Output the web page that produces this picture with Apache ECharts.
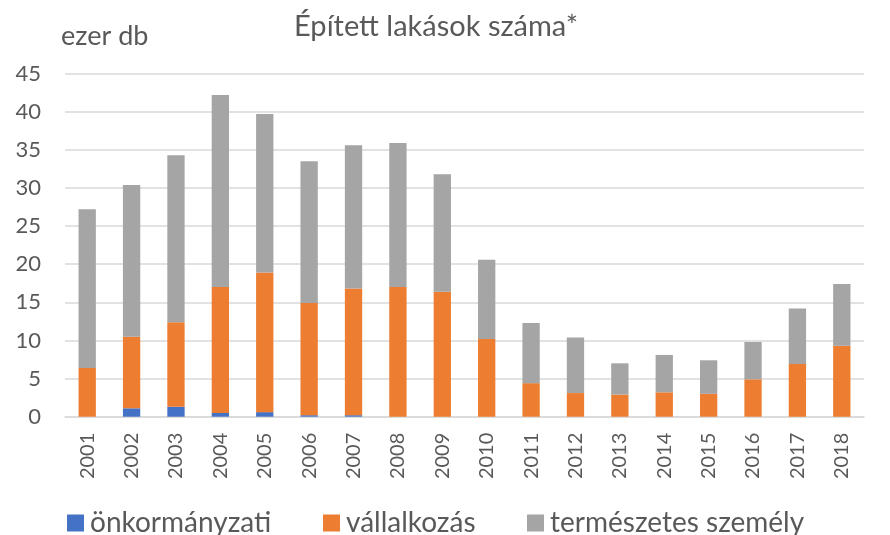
<!DOCTYPE html>
<html>
<head>
<meta charset="utf-8">
<script src="https://cdn.jsdelivr.net/npm/echarts@6/dist/echarts.min.js"></script>
<style>
  html, body { margin: 0; padding: 0; background: #fff; }
  #chart { width: 890px; height: 535px; }
</style>
</head>
<body>
<div id="chart"></div>
<script>
const years = ['2001', '2002', '2003', '2004', '2005', '2006', '2007', '2008', '2009',
  '2010', '2011', '2012', '2013', '2014', '2015', '2016', '2017', '2018'];
const onkormanyzati = [0, 1.1, 1.3, 0.5, 0.6, 0.2, 0.2, 0, 0, 0, 0, 0, 0, 0, 0, 0, 0, 0];
const vallalkozas = [6.4, 9.4, 11.1, 16.5, 18.3, 14.7, 16.6, 17.0, 16.4, 10.2, 4.4, 3.1, 2.9, 3.2, 3.0, 4.9, 6.9, 9.3];
const termeszetes = [20.8, 19.9, 21.9, 25.2, 20.8, 18.6, 18.8, 18.9, 15.4, 10.4, 7.9, 7.3, 4.1, 4.9, 4.4, 4.9, 7.3, 8.1];
const seriesNames = ['önkormányzati', 'vállalkozás', 'természetes személy'];

const font = 'Lato';
const textColor = '#595959';

const chart = echarts.init(document.getElementById('chart'));

function barSeries(name, data, color) {
  return {
    name: name,
    type: 'bar',
    stack: 'total',
    data: data,
    barWidth: '39%',
    itemStyle: { color: color },
    emphasis: { disabled: true }
  };
}

// one legend per item so each sits where the original puts it
function legendItem(name, left) {
  return {
    left: left,
    top: 504,
    itemWidth: 17,
    itemHeight: 17,
    itemGap: 0,
    icon: 'rect',
    textStyle: { fontFamily: font, fontSize: 28, color: textColor, padding: [0, 0, 0, 1] },
    data: [name]
  };
}

chart.setOption({
  animation: false,
  textStyle: { fontFamily: font, color: textColor },
  title: {
    text: 'Épített lakások száma*',
    left: 431,
    top: 7,
    textAlign: 'center',
    textStyle: { fontFamily: font, fontSize: 29, fontWeight: 'normal', color: textColor }
  },
  legend: [
    legendItem(seriesNames[0], 62),
    legendItem(seriesNames[1], 318),
    legendItem(seriesNames[2], 522)
  ],
  grid: {
    left: 65,
    right: 26,
    top: 73.6,
    bottom: 118.3,
    containLabel: false
  },
  xAxis: {
    type: 'category',
    data: years,
    axisLine: { show: true, lineStyle: { color: '#d9d9d9', width: 1.5 } },
    axisTick: { show: false },
    axisLabel: { rotate: 90, margin: 16, fontFamily: font, fontSize: 20, color: textColor }
  },
  yAxis: {
    type: 'value',
    name: 'ezer db',
    nameLocation: 'end',
    nameGap: 24,
    nameTextStyle: { fontFamily: font, fontSize: 27, color: textColor, align: 'left', padding: [0, 0, 0, -4] },
    min: 0,
    max: 45,
    interval: 5,
    axisLine: { show: false },
    axisTick: { show: false },
    axisLabel: { margin: 24, fontFamily: font, fontSize: 22, color: textColor },
    splitLine: { lineStyle: { color: '#d9d9d9', width: 1.5 } }
  },
  series: [
    barSeries(seriesNames[0], onkormanyzati, '#4472C4'),
    barSeries(seriesNames[1], vallalkozas, '#ED7D31'),
    barSeries(seriesNames[2], termeszetes, '#A5A5A5')
  ]
});
</script>
</body>
</html>
